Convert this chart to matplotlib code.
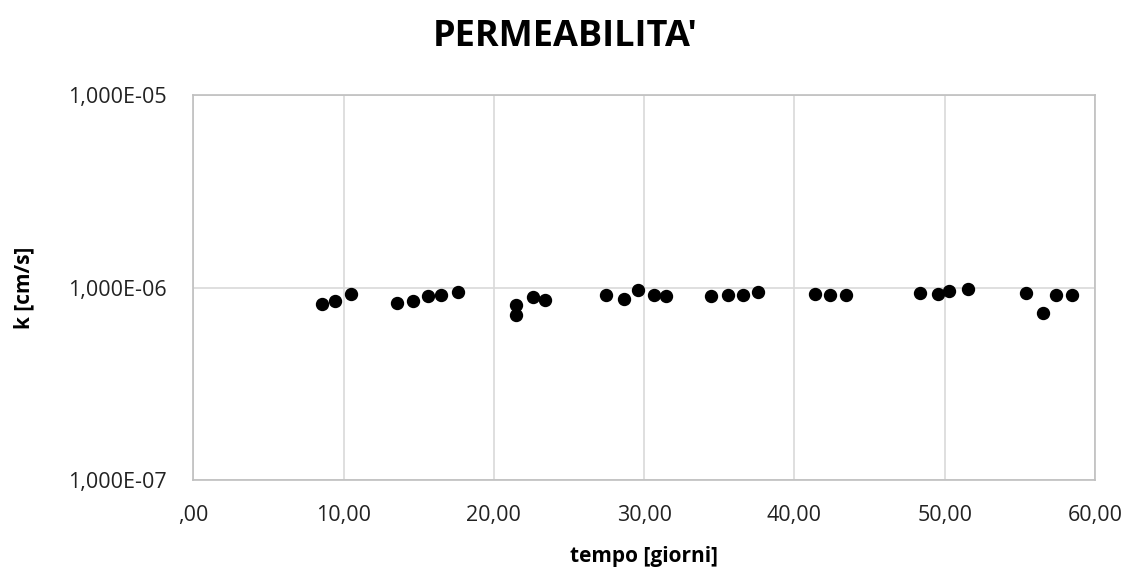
import matplotlib
matplotlib.use("Agg")
import matplotlib.pyplot as plt
from matplotlib.ticker import FuncFormatter, FixedLocator

# Tempo di prova (giorni) e permeabilità misurata k (cm/s)
tempo = [8.56, 9.45, 10.46, 13.52, 14.60, 15.62, 16.50, 17.61,
         21.48, 21.48, 22.63, 23.38, 27.43, 28.63, 29.62, 30.66,
         31.45, 34.42, 35.59, 36.56, 37.60, 41.39, 42.40, 43.42,
         48.35, 49.57, 50.32, 51.56, 55.43, 56.54, 57.40, 58.44]
k = [8.19e-7, 8.56e-7, 9.30e-7, 8.32e-7, 8.50e-7, 9.02e-7, 9.13e-7, 9.50e-7,
     8.10e-7, 7.18e-7, 8.95e-7, 8.66e-7, 9.19e-7, 8.76e-7, 9.69e-7, 9.13e-7,
     9.08e-7, 9.08e-7, 9.16e-7, 9.19e-7, 9.50e-7, 9.24e-7, 9.16e-7, 9.19e-7,
     9.35e-7, 9.30e-7, 9.61e-7, 9.88e-7, 9.38e-7, 7.36e-7, 9.16e-7, 9.19e-7]

x_ticks = [0, 10, 20, 30, 40, 50, 60]
y_ticks = [1e-7, 1e-6, 1e-5]

plt.rcParams['font.family'] = ['Open Sans', 'DejaVu Sans']

fig = plt.figure(figsize=(11.28, 5.70), dpi=100)
ax = fig.add_axes([0.1714, 0.158, 0.7993, 0.675])

ax.plot(tempo, k, linestyle='none', marker='o', markersize=8.6,
        color='black', zorder=3)

ax.set_yscale('log')
ax.set_xlim(0, 60)
ax.set_ylim(1e-7, 1e-5)
ax.xaxis.set_major_locator(FixedLocator(x_ticks))
ax.yaxis.set_major_locator(FixedLocator(y_ticks))
ax.yaxis.set_minor_locator(FixedLocator([]))


def fmt_x(v, pos):
    s = f"{v:.2f}".replace('.', ',')
    return s[1:] if s.startswith('0') else s


def fmt_y(v, pos):
    m, e = f"{v:.3E}".split('E')
    return f"{m.replace('.', ',')}E{int(e):+03d}".replace('+', '')


ax.xaxis.set_major_formatter(FuncFormatter(fmt_x))
ax.yaxis.set_major_formatter(FuncFormatter(fmt_y))

ax.grid(True, which='major', color='#d9d9d9', linewidth=1.2, zorder=0)
ax.set_axisbelow(True)
for sp in ax.spines.values():
    sp.set_color('#bfbfbf')
    sp.set_linewidth(1.2)
ax.tick_params(length=0, labelsize=15.5, colors='#222222')
ax.tick_params(axis='y', pad=19)
ax.tick_params(axis='x', pad=18)

fig.text(0.571, 0.0235, 'tempo [giorni]', ha='center', va='center',
         fontsize=15, fontweight='bold')
fig.text(0.0215, 0.4956, 'k [cm/s]', ha='center', va='center',
         rotation=90, fontsize=15, fontweight='bold')

fig.text(0.501, 0.935, "PERMEABILITA'", ha='center', va='center',
         fontsize=26, fontweight='bold')

fig.savefig('out.png', dpi=100)
